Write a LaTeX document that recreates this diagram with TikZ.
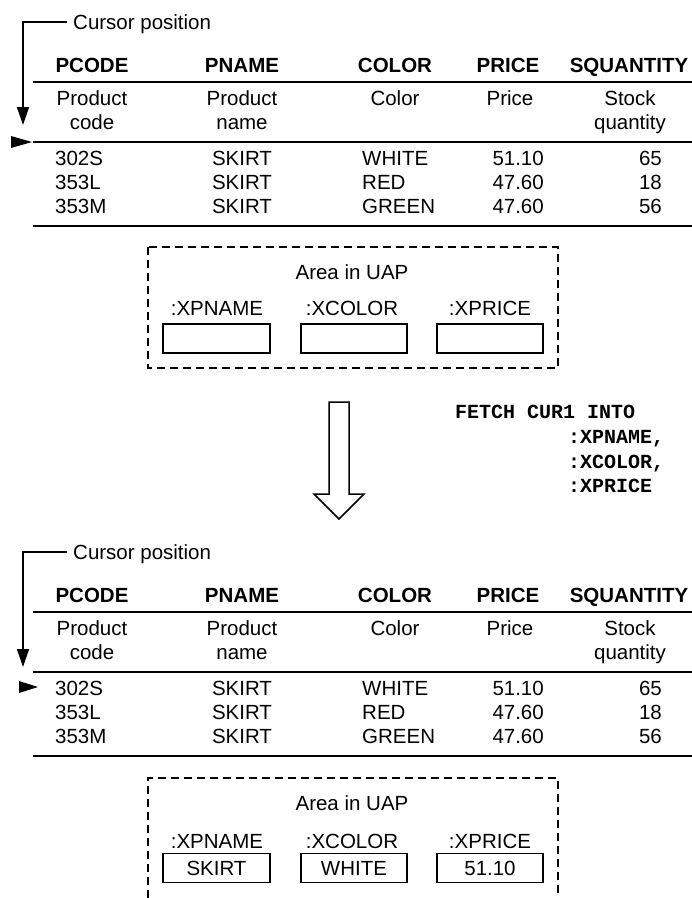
\documentclass[tikz,border=0pt]{standalone}
\usepackage{fontspec}
\setmainfont{Liberation Sans}
\newfontfamily\codefont{Liberation Mono}
\usetikzlibrary{arrows.meta}
\tikzset{
  txt/.style={inner sep=0pt, text height=14.7pt, text depth=0pt, font=\fontsize{20.5}{25}\selectfont},
  hd/.style={txt, font=\fontsize{20.5}{25}\selectfont\bfseries},
  lt/.style={txt, anchor=west},
  rt/.style={txt, anchor=east},
  codetxt/.style={inner sep=0pt, text height=12pt, text depth=0pt, anchor=west, font=\fontsize{20}{25}\selectfont\codefont\bfseries},
  rule/.style={line width=1.8pt},
  dbox/.style={line width=1.5pt, dash pattern=on 8pt off 5pt},
  valbox/.style={txt, draw, line width=1.5pt, minimum width=106pt, minimum height=29pt},
  cursorline/.style={line width=1.5pt, -{Triangle[length=18pt,width=12pt]}},
}
% #1 prefix, #2 shift, #3 arrow tip y, #4 pointer x, #5 pointer y, #6 pointer length
\newcommand\prodtable[6]{%
\begin{scope}[yshift=#2]
  \node[lt] (#1cur) at (73,22) {Cursor position};
  \coordinate (#1ca) at (67,22);
  \coordinate (#1ctip) at (23,#3);
  \draw[cursorline] (#1ca) -| (#1ctip);
  \fill[shift={(#4,#5)}] (0,-6) -- (#6,0) -- (0,6) -- cycle;
  \node[hd] (#1h1) at (92,65) {PCODE};
  \node[hd] (#1h2) at (242,65) {PNAME};
  \node[hd] (#1h3) at (395,65) {COLOR};
  \node[hd] (#1h4) at (508,65) {PRICE};
  \node[hd] (#1h5) at (629,65) {SQUANTITY};
  \coordinate (#1la) at (33,82); \coordinate (#1lb) at (692,82);
  \draw[rule] (#1la) -- (#1lb);
  \node[txt] (#1d1a) at (92,98) {Product};
  \node[txt] (#1d1b) at (92,122) {code};
  \node[txt] (#1d2a) at (242,98) {Product};
  \node[txt] (#1d2b) at (242,122) {name};
  \node[txt] (#1d3) at (395,98) {Color};
  \node[txt] (#1d4) at (510,98) {Price};
  \node[txt] (#1d5a) at (630,98) {Stock};
  \node[txt] (#1d5b) at (630,122) {quantity};
  \coordinate (#1ma) at (33,142); \coordinate (#1mb) at (692,142);
  \draw[rule] (#1ma) -- (#1mb);
  \node[lt] (#1r1a) at (55,158) {302S};
  \node[txt] (#1r1b) at (242,158) {SKIRT};
  \node[lt] (#1r1c) at (362,158) {WHITE};
  \node[rt] (#1r1d) at (544,158) {51.10};
  \node[rt] (#1r1e) at (662,158) {65};
  \node[lt] (#1r2a) at (55,182) {353L};
  \node[txt] (#1r2b) at (242,182) {SKIRT};
  \node[lt] (#1r2c) at (362,182) {RED};
  \node[rt] (#1r2d) at (544,182) {47.60};
  \node[rt] (#1r2e) at (662,182) {18};
  \node[lt] (#1r3a) at (55,206) {353M};
  \node[txt] (#1r3b) at (242,206) {SKIRT};
  \node[lt] (#1r3c) at (362,206) {GREEN};
  \node[rt] (#1r3d) at (544,206) {47.60};
  \node[rt] (#1r3e) at (662,206) {56};
  \coordinate (#1ba) at (33,226); \coordinate (#1bb) at (692,226);
  \draw[rule] (#1ba) -- (#1bb);
\end{scope}}
\begin{document}
\begin{tikzpicture}[x=1pt,y=-1pt]
\useasboundingbox (0,0) rectangle (692,898);
\fill[white] (0,0) rectangle (692,898);

\prodtable{a}{0pt}{125}{11}{142}{21}
\prodtable{b}{-530pt}{137}{19}{157}{19}

% UAP area before fetch
\draw[dbox] (148,247) rectangle (558,368);
\node[txt] (ua) at (352,272) {Area in UAP};
\node[txt] (ul1) at (217,308) {:XPNAME};
\node[txt] (ul2) at (352,308) {:XCOLOR};
\node[txt] (ul3) at (490,308) {:XPRICE};
\node[valbox, minimum width=107pt] (ub1) at (216.5,338.5) {};
\node[valbox] (ub2) at (354,338.5) {};
\node[valbox] (ub3) at (490,338.5) {};

% big hollow arrow
\draw[line width=1.5pt, fill=white] (329,402) -- (349,402) -- (349,494) -- (364,494)
  -- (339,519) -- (314,494) -- (329,494) -- cycle;

% FETCH statement
\node[codetxt] (f1) at (455,412) {FETCH CUR1 INTO};
\node[codetxt] (f2) at (568,437) {:XPNAME,};
\node[codetxt] (f3) at (568,462) {:XCOLOR,};
\node[codetxt] (f4) at (568,486) {:XPRICE};

% UAP area after fetch
\draw[dbox] (148,898) -- (148,778) -- (558,778) -- (558,898);
\node[txt] (va) at (352,803) {Area in UAP};
\node[txt] (vl1) at (217,841) {:XPNAME};
\node[txt] (vl2) at (352,841) {:XCOLOR};
\node[txt] (vl3) at (490,841) {:XPRICE};
\node[valbox, minimum width=107pt] (vb1) at (216.5,868) {SKIRT};
\node[valbox] (vb2) at (354,868) {WHITE};
\node[valbox] (vb3) at (490,868) {51.10};
\end{tikzpicture}
\end{document}
